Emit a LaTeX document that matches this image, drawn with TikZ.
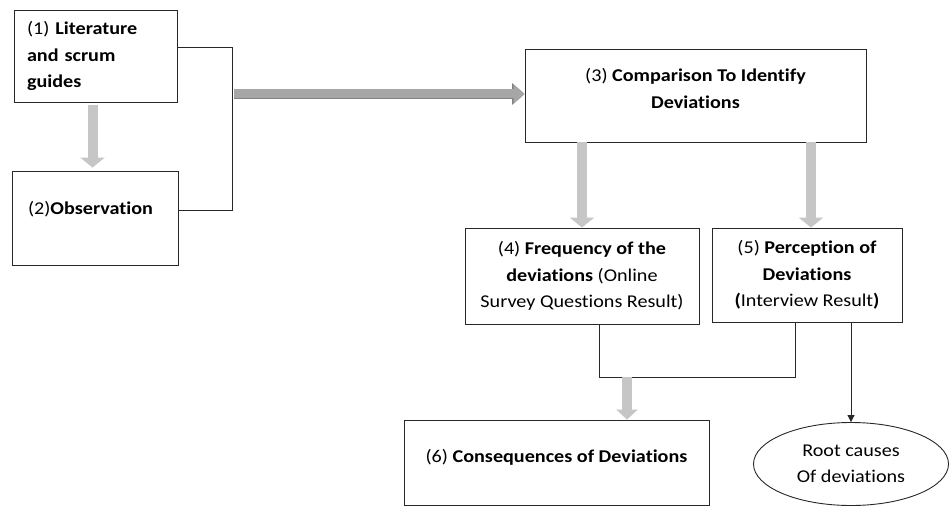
\documentclass[tikz,border=0pt]{standalone}
\usepackage{fontspec}
\setmainfont{Carlito}[FakeStretch=1.12, Ligatures=NoCommon]
\usetikzlibrary{arrows.meta,shapes.geometric}
\definecolor{lgray}{RGB}{198,198,198}
\definecolor{mgray}{RGB}{166,166,166}
\definecolor{dgray}{RGB}{130,130,130}
\definecolor{lcol}{RGB}{40,40,40}
\begin{document}
\begin{tikzpicture}[x=1pt,y=-1pt,
  font=\fontsize{18}{26.5}\selectfont,
  box/.style={draw=lcol, line width=0.9pt, rectangle, inner sep=0pt},
  garrow/.style={line width=10pt, draw=lgray, -{Triangle[width=24pt,length=10pt]}},
  harrow/.style={line width=9pt, draw=mgray, -{Triangle[width=19pt,length=11pt]},
    preaction={draw=dgray, line width=10.6pt, -{Triangle[width=21pt,length=12.5pt]}}},
  conn/.style={draw=lcol, line width=0.9pt}]
\useasboundingbox (0,0) rectangle (949,508);
\fill[white] (0,0) rectangle (949,508);

\node[box, minimum width=163pt, minimum height=92pt, text width=137pt, align=left] (b1) at (95.5,56)
  {(1) \textbf{Literature}\\\textbf{and scrum}\\\textbf{guides}};
\node[box, minimum width=166pt, minimum height=94pt, text width=134pt, align=left, text depth=20pt] (b2) at (95,218)
  {(2)\textbf{Observation}};
\node[box, minimum width=341pt, minimum height=93pt] (b3) at (695.5,95.5) {};
\node[align=center, inner sep=0pt] (t3) at (695.5,88.5)
  {(3) \textbf{Comparison To Identify}\\\textbf{Deviations}};
\node[box, minimum width=234pt, minimum height=96pt, align=center] (b4) at (582,276)
  {(4) \textbf{Frequency of the}\\\textbf{deviations} (Online\\Survey Questions Result)};
\node[box, minimum width=190pt, minimum height=94pt, align=center] (b5) at (807,275)
  {(5) \textbf{Perception of}\\\textbf{Deviations}\\\textbf{(}Interview Result\textbf{)}};
\node[box, minimum width=305pt, minimum height=85pt, text depth=13.5pt] (b6) at (556.5,462.5)
  {(6) \textbf{Consequences of Deviations}};
\node[ellipse, draw=lcol, line width=0.9pt, minimum width=195pt, minimum height=83pt, inner sep=0pt, align=center] (ell) at (851,464)
  {Root causes\\Of deviations};

% bracket from (1) and (2)
\coordinate (jt) at (232,47);
\coordinate (jb) at (232,210);
\coordinate (jm) at (234,94);
\draw[conn] (b1.east |- jt) -- (jt) -- (jb) -- (b2.east |- jb);
\draw[harrow] (jm) -- (b3.west |- jm);

% (1) -> (2)
\coordinate (c12) at ([xshift=-3pt]b1.south);
\draw[garrow, shorten <=3pt, shorten >=3pt] (c12) -- (c12 |- b2.north);

% (3) -> (4), (3) -> (5)
\draw[garrow] (b4.north |- b3.south) -- (b4.north);
\coordinate (c5) at ([xshift=4pt]b5.north);
\draw[garrow] (c5 |- b3.south) -- (c5);

% (4),(5) -> (6)
\coordinate (j4) at (599,377);
\coordinate (j5) at (795,377);
\coordinate (j6) at (627,377);
\draw[conn] (b4.south -| j4) -- (j4) -- (j5) -- (b5.south -| j5);
\draw[line width=10pt, draw=lgray, -{Triangle[width=21pt,length=10pt]}] (j6) -- (b6.north -| j6);

% (5) -> root causes
\draw[conn, -{Triangle[width=7pt,length=7pt]}] (b5.south -| ell.north) -- (ell.north);
\end{tikzpicture}
\end{document}
